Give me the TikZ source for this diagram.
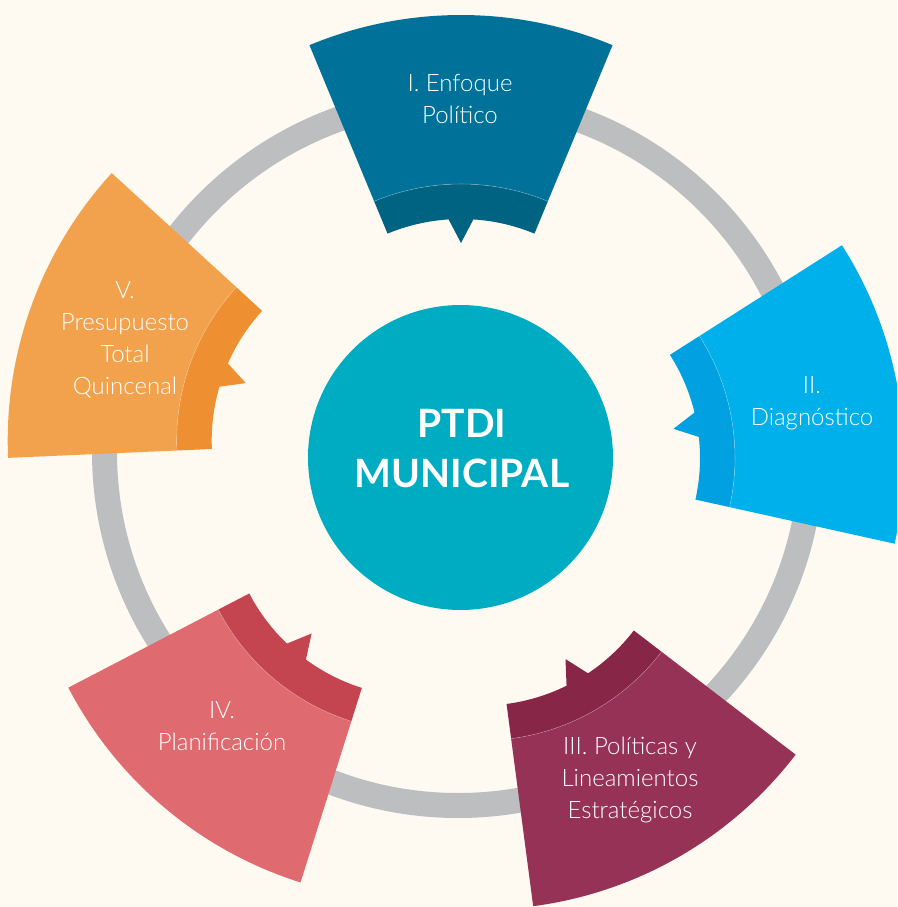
\documentclass[tikz,border=0pt]{standalone}
\usepackage{fontspec}
\setmainfont{Lato}
\newfontfamily\lightfont{Lato Light}
\definecolor{paper}{RGB}{254,250,242}
\definecolor{ringgray}{RGB}{188,190,192}
\definecolor{ptdicol}{RGB}{0,172,194}
\definecolor{enfcol}{RGB}{0,114,153}
\definecolor{enfdark}{RGB}{0,99,130}
\definecolor{diagcol}{RGB}{0,176,235}
\definecolor{diagdark}{RGB}{0,160,225}
\definecolor{polcol}{RGB}{150,50,85}
\definecolor{poldark}{RGB}{135,38,70}
\definecolor{plancol}{RGB}{223,106,111}
\definecolor{plandark}{RGB}{196,69,80}
\definecolor{prescol}{RGB}{242,162,77}
\definecolor{presdark}{RGB}{238,144,50}
\tikzset{
  seglabel/.style={text=white, align=center, font=\lightfont\fontsize{24}{32}\selectfont},
  seam/.style={white, opacity=0.3, line width=0.6pt},
}
\begin{document}
\begin{tikzpicture}[x=1pt,y=1pt]
  \fill[paper] (-460.5,-449.5) rectangle (436.5,457.5);
  \useasboundingbox (-460.5,-449.5) rectangle (436.5,457.5);
  \clip (-460.5,-449.5) rectangle (436.5,457.5);
  % gray ring behind the five parts
  \draw[ringgray, line width=25] (-2.5,5.5) circle (353.5);
  % I. Enfoque Politico
  \fill[enfcol, shift={(0.5,46.5)}] (67.5:227) -- (67.5:396) arc[start angle=67.5, end angle=112.5, radius=396] -- (112.5:227) arc[start angle=112.5, end angle=67.5, radius=227] -- cycle;
  \fill[enfdark, shift={(0.5,46.5)}] (67.5:192) -- (67.5:227) arc[start angle=67.5, end angle=112.5, radius=227] -- (112.5:192) arc[start angle=112.5, end angle=93.7, radius=192] -- (90:168) -- (86.3:192) arc[start angle=86.3, end angle=67.5, radius=192] -- cycle;
  \draw[seam, shift={(0.5,46.5)}] (67.5:227) arc[start angle=67.5, end angle=112.5, radius=227];
  % II. Diagnostico
  \fill[diagcol, shift={(47.5,-0.5)}, rotate=-80] (67.5:227) -- (67.5:396) arc[start angle=67.5, end angle=112.5, radius=396] -- (112.5:227) arc[start angle=112.5, end angle=67.5, radius=227] -- cycle;
  \fill[diagdark, shift={(47.5,-0.5)}, rotate=-80] (67.5:192) -- (67.5:227) arc[start angle=67.5, end angle=112.5, radius=227] -- (112.5:192) arc[start angle=112.5, end angle=93.7, radius=192] -- (90:168) -- (86.3:192) arc[start angle=86.3, end angle=67.5, radius=192] -- cycle;
  \draw[seam, shift={(47.5,-0.5)}, rotate=-80] (67.5:227) arc[start angle=67.5, end angle=112.5, radius=227];
  % III. Politicas y Lineamientos
  \fill[polcol, shift={(21,-56.1)}, rotate=-150] (67.5:227) -- (67.5:396) arc[start angle=67.5, end angle=112.5, radius=396] -- (112.5:227) arc[start angle=112.5, end angle=67.5, radius=227] -- cycle;
  \fill[poldark, shift={(21,-56.1)}, rotate=-150] (67.5:192) -- (67.5:227) arc[start angle=67.5, end angle=112.5, radius=227] -- (112.5:192) arc[start angle=112.5, end angle=93.7, radius=192] -- (90:168) -- (86.3:192) arc[start angle=86.3, end angle=67.5, radius=192] -- cycle;
  \draw[seam, shift={(21,-56.1)}, rotate=-150] (67.5:227) arc[start angle=67.5, end angle=112.5, radius=227];
  % IV. Planificacion
  \fill[plancol, shift={(-40.9,-47.3)}, rotate=-220] (67.5:227) -- (67.5:396) arc[start angle=67.5, end angle=112.5, radius=396] -- (112.5:227) arc[start angle=112.5, end angle=67.5, radius=227] -- cycle;
  \fill[plandark, shift={(-40.9,-47.3)}, rotate=-220] (67.5:192) -- (67.5:227) arc[start angle=67.5, end angle=112.5, radius=227] -- (112.5:192) arc[start angle=112.5, end angle=93.7, radius=192] -- (90:168) -- (86.3:192) arc[start angle=86.3, end angle=67.5, radius=192] -- cycle;
  \draw[seam, shift={(-40.9,-47.3)}, rotate=-220] (67.5:227) arc[start angle=67.5, end angle=112.5, radius=227];
  % V. Presupuesto
  \fill[prescol, shift={(-56.8,16.9)}, rotate=70] (67.5:227) -- (67.5:396) arc[start angle=67.5, end angle=112.5, radius=396] -- (112.5:227) arc[start angle=112.5, end angle=67.5, radius=227] -- cycle;
  \fill[presdark, shift={(-56.8,16.9)}, rotate=70] (67.5:192) -- (67.5:227) arc[start angle=67.5, end angle=112.5, radius=227] -- (112.5:192) arc[start angle=112.5, end angle=93.7, radius=192] -- (90:168) -- (86.3:192) arc[start angle=86.3, end angle=67.5, radius=192] -- cycle;
  \draw[seam, shift={(-56.8,16.9)}, rotate=70] (67.5:227) arc[start angle=67.5, end angle=112.5, radius=227];
  % labels
  \node[seglabel] (enfoque) at (-0.5,358.5) {I. Enfoque\\Político};
  \node[seglabel] (diagnostico) at (351.5,54.5) {II.\\Diagnóstico};
  \node[seglabel] (politicas) at (169.5,-322.5) {III. Políticas y\\Lineamientos\\Estratégicos};
  \node[seglabel] (planificacion) at (-238.5,-268.5) {IV.\\Planificación};
  \node[seglabel] (presupuesto) at (-335.5,117.5) {V.\\Presupuesto\\Total\\Quincenal};
  % centre
  \node[circle, fill=ptdicol, minimum size=305, inner sep=0pt] (ptdi) at (0,0) {};
  \node[text=white, align=center, font=\bfseries\fontsize{39}{50}\selectfont] (ptdilabel) at (1.5,8.5) {PTDI\\MUNICIPAL};
\end{tikzpicture}
\end{document}
